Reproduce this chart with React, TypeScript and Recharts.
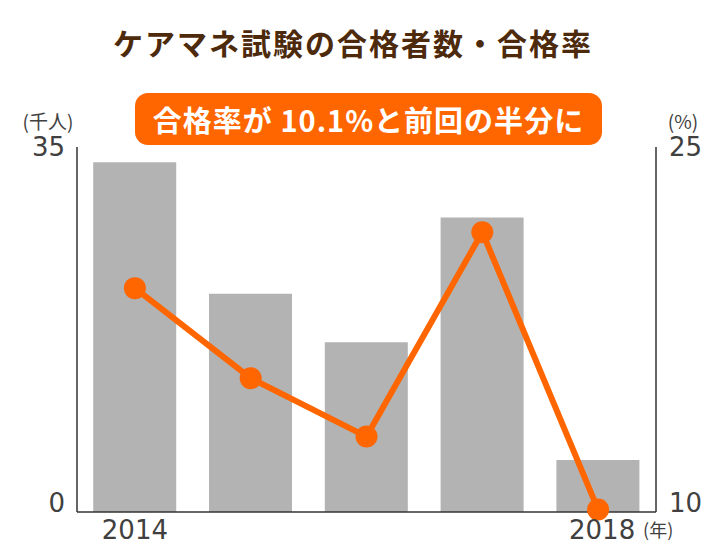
import React from 'react';
import { ComposedChart, Bar, Line, XAxis, YAxis } from 'recharts';

const years = ['2014', '2015', '2016', '2017', '2018'];
const passers = [33.539, 20.924, 16.28, 28.233, 4.99]; // 千人
const passRate = [19.2, 15.5, 13.1, 21.5, 10.1]; // %
const leftTicks = [0, 35];
const rightTicks = [10, 25];
const shownYears = ['2014', '2018'];

const data = years.map((y, i) => ({ year: y, passers: passers[i], rate: passRate[i] }));

const TXT = '#404040';
const NUM_FONT = '"DejaVu Sans", Verdana, sans-serif';
const JP_FONT = '"Noto Sans CJK JP", "Noto Sans", sans-serif';

const LeftTick = (props: any) => {
  const { x, y, payload } = props;
  const dy = payload.value === 0 ? -9 : 0;
  return (
    <text x={x} y={y + dy} dy="0.36em" textAnchor="end" fontSize={26} fill={TXT} fontFamily={NUM_FONT}>
      {payload.value}
    </text>
  );
};

const RightTick = (props: any) => {
  const { x, y, payload } = props;
  const dy = payload.value === 10 ? -9 : 0;
  return (
    <text x={x} y={y + dy} dy="0.36em" textAnchor="start" fontSize={26} fill={TXT} fontFamily={NUM_FONT}>
      {payload.value}
    </text>
  );
};

const XTick = (props: any) => {
  const { x, y, payload } = props;
  if (!shownYears.includes(payload.value)) return null;
  const last = payload.value === years[years.length - 1];
  return (
    <g>
      <text x={last ? x + 4 : x} y={y + 17} textAnchor="middle" fontSize={26} fill={TXT} fontFamily={NUM_FONT}>
        {payload.value}
      </text>
      {last && (
        <text x={x + 45} y={y + 15} textAnchor="start" fontSize={18} fill={TXT} fontFamily={JP_FONT}>
          (年)
        </text>
      )}
    </g>
  );
};

const UnitLabel = (text: string, dx: number) => (props: any) => {
  const vb = props.viewBox || {};
  return (
    <text
      x={vb.x + dx}
      y={vb.y - 27}
      textAnchor="middle"
      dominantBaseline="central"
      fontSize={19}
      fill={TXT}
      fontFamily={JP_FONT}
    >
      {text}
    </text>
  );
};

export default function App() {
  return (
    <div style={{ position: 'absolute', left: 0, top: 0, width: 726, height: 545, background: '#fff' }}>
      <div
        style={{
          position: 'absolute',
          left: 0,
          top: 22,
          width: 706,
          textAlign: 'center',
          fontFamily: JP_FONT,
          fontWeight: 700,
          fontSize: 30,
          lineHeight: '40px',
          color: '#4d2a0c',
          letterSpacing: 2,
        }}
      >
        ケアマネ試験の合格者数・合格率
      </div>
      <div
        style={{
          position: 'absolute',
          left: 135,
          top: 93,
          width: 467,
          height: 52,
          borderRadius: 13,
          background: '#ff6600',
          color: '#fff',
          fontFamily: JP_FONT,
          fontWeight: 700,
          fontSize: 29,
          lineHeight: '52px',
          textAlign: 'center',
          letterSpacing: 1,
        }}
      >
        合格率が 10.1%と前回の半分に
      </div>
      <ComposedChart
        width={726}
        height={545}
        data={data}
        margin={{ top: 147, right: 0, bottom: 0, left: 0 }}
        barCategoryGap="14%"
      >
        <XAxis
          dataKey="year"
          height={33}
          tickLine={false}
          tickSize={8}
          axisLine={{ stroke: '#333', strokeWidth: 1.5 }}
          tick={<XTick />}
          interval={0}
        />
        <YAxis
          yAxisId="left"
          orientation="left"
          width={77}
          domain={[0, 35]}
          ticks={leftTicks}
          tickLine={false}
          tickSize={10}
          axisLine={{ stroke: '#333', strokeWidth: 1.5 }}
          tick={<LeftTick />}
          label={{ content: UnitLabel('(千人)', 48) }}
        />
        <YAxis
          yAxisId="right"
          orientation="right"
          width={70}
          domain={[10, 25]}
          ticks={rightTicks}
          tickLine={false}
          tickSize={11}
          axisLine={{ stroke: '#333', strokeWidth: 1.5 }}
          tick={<RightTick />}
          label={{ content: UnitLabel('(%)', 27) }}
        />
        <Bar yAxisId="left" dataKey="passers" fill="#b3b3b3" isAnimationActive={false} />
        <Line
          yAxisId="right"
          dataKey="rate"
          stroke="#ff6600"
          strokeWidth={6}
          dot={{ r: 11, fill: '#ff6600', stroke: 'none' }}
          activeDot={false}
          isAnimationActive={false}
        />
      </ComposedChart>
    </div>
  );
}
